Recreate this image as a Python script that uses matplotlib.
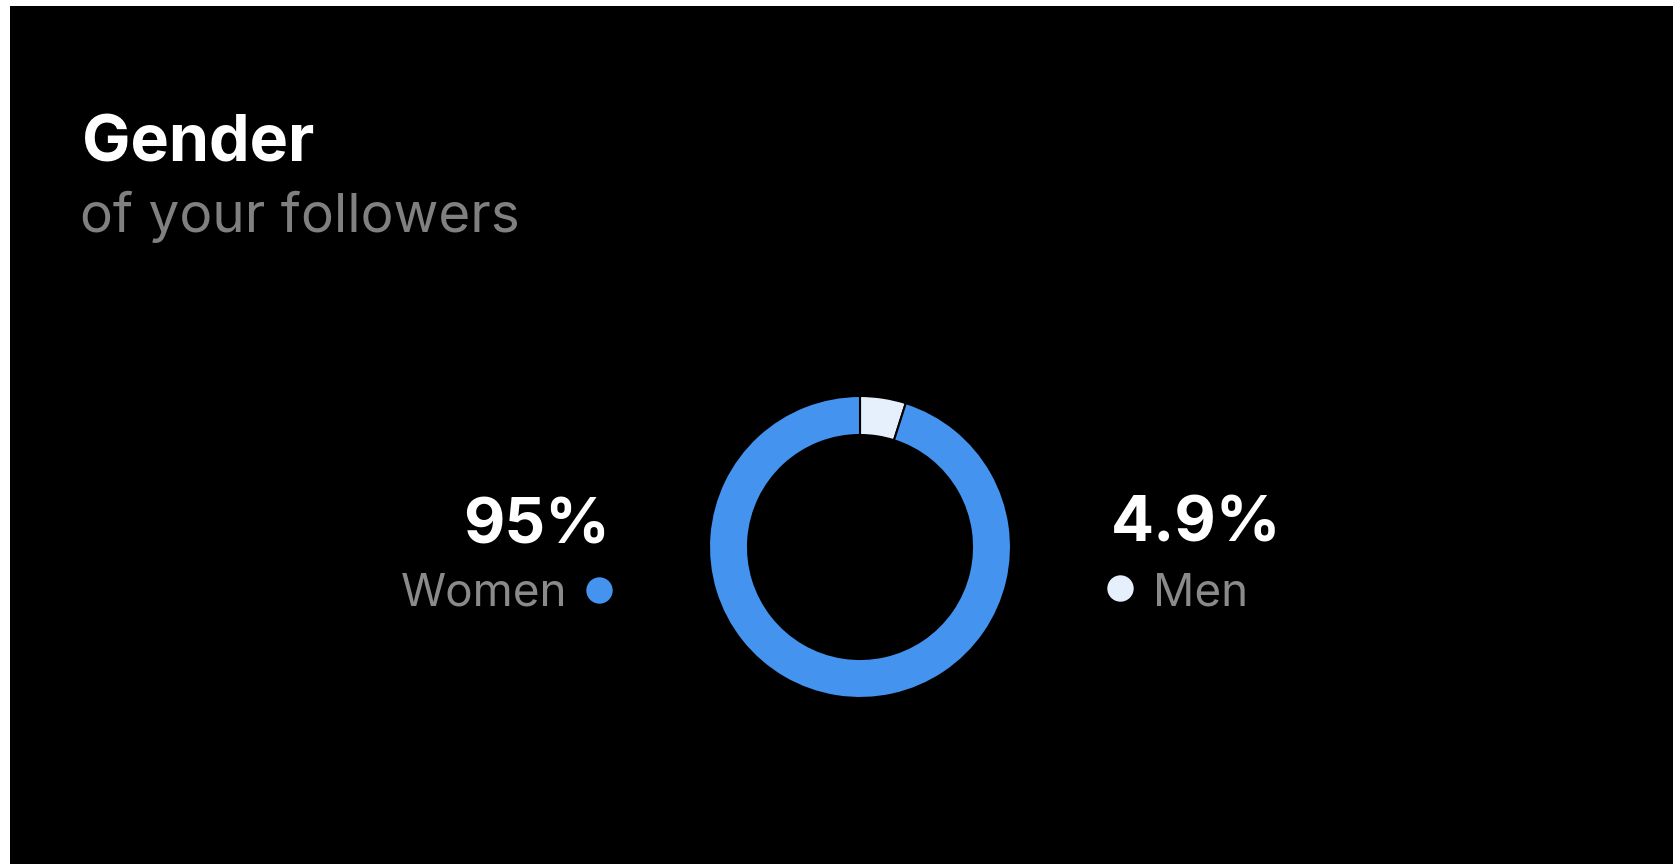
import matplotlib
matplotlib.use('Agg')
import matplotlib.pyplot as plt
from matplotlib.patches import Rectangle

# Data
labels = ['Men', 'Women']
shares = [4.9, 95]
share_text = ['4.9%', '95%']
slice_colors = ['#e6f0fc', '#4494ef']

title = 'Gender'
subtitle = 'of your followers'

# Figure in pixel units (1673x864 at dpi 100)
W, H = 1673, 864
fig = plt.figure(figsize=(W / 100, H / 100), dpi=100, facecolor='white')
ax = fig.add_axes([0, 0, 1, 1])
ax.set_xlim(0, W)
ax.set_ylim(0, H)
ax.axis('off')

# black card with thin white margin at top/left
ax.add_patch(Rectangle((10, 0), W - 10, H - 6, facecolor='black', edgecolor='none', zorder=0))

font = ['Inter', 'DejaVu Sans']

# donut
cx, cy = 860, H - 547
r_out, r_in = 151, 112
ax.pie(shares, colors=slice_colors, startangle=90, counterclock=False,
       radius=r_out, center=(cx, cy), frame=True,
       wedgeprops=dict(width=r_out - r_in, edgecolor='black', linewidth=1.5))
ax.set_xlim(0, W)
ax.set_ylim(0, H)
ax.set_aspect('auto')
ax.axis('off')

# titles
ax.text(82, H - 162, title, color='white', fontsize=46.5, fontweight='bold',
        family=font, ha='left', va='baseline')
ax.text(80, H - 232, subtitle, color='#808080', fontsize=39.5,
        family=font, ha='left', va='baseline')

# women label (left)
ax.text(610, H - 543, share_text[1], color='white', fontsize=46, fontweight='bold',
        family=font, ha='right', va='baseline')
ax.text(567, H - 605, labels[1], color='#8a8a8a', fontsize=33,
        family=font, ha='right', va='baseline')
ax.plot([599], [H - 590], 'o', color=slice_colors[1], markersize=19, markeredgewidth=0)

# men label (right)
ax.text(1111, H - 542, share_text[0], color='white', fontsize=46, fontweight='bold',
        family=font, ha='left', va='baseline')
ax.text(1153, H - 605, labels[0], color='#8a8a8a', fontsize=33,
        family=font, ha='left', va='baseline')
ax.plot([1120], [H - 588], 'o', color=slice_colors[0], markersize=19, markeredgewidth=0)

fig.savefig('out.png', dpi=100, facecolor='white')
